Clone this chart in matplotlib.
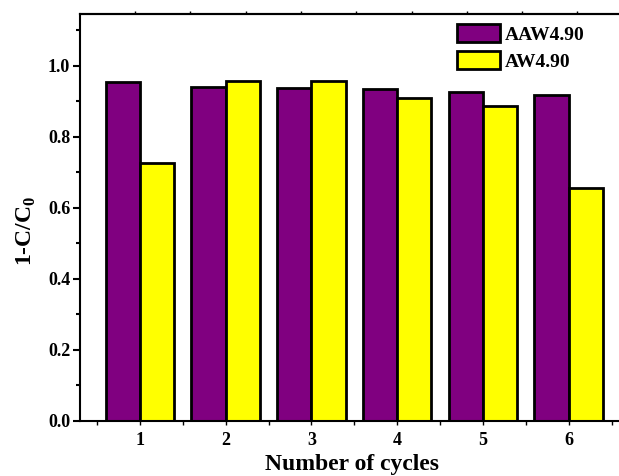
import numpy as np
import matplotlib
matplotlib.use("Agg")
import matplotlib.pyplot as plt
from matplotlib.ticker import MultipleLocator

plt.rcParams['font.family'] = 'Liberation Serif'
plt.rcParams['font.weight'] = 'bold'
plt.rcParams['mathtext.fontset'] = 'custom'
plt.rcParams['mathtext.bf'] = 'Liberation Serif:bold'
plt.rcParams['mathtext.rm'] = 'Liberation Serif:bold'

cycles = [1, 2, 3, 4, 5, 6]
aaw = [0.953, 0.941, 0.938, 0.934, 0.925, 0.918]
aw = [0.725, 0.957, 0.957, 0.910, 0.888, 0.655]
names = ['AAW4.90', 'AW4.90']
colors = ['#800080', '#ffff00']

fig = plt.figure(figsize=(6.19, 4.76), dpi=100)
ax = fig.add_axes([0.1292, 0.1162, 0.8805, 0.8544])

x = np.array(cycles)
w = 0.4
ax.bar(x - w/2, aaw, w, color=colors[0], edgecolor='k', linewidth=2, label=names[0])
ax.bar(x + w/2, aw, w, color=colors[1], edgecolor='k', linewidth=2, label=names[1])

ax.set_xlim(0.30, 6.657)
ax.set_ylim(0, 1.146)
ax.set_xticks(cycles)
ax.xaxis.set_minor_locator(MultipleLocator(0.5))
ax.yaxis.set_minor_locator(MultipleLocator(0.1))
ax.set_yticks([0, 0.2, 0.4, 0.6, 0.8, 1.0])
ax.set_yticklabels(['0.0', '0.2', '0.4', '0.6', '0.8', '1.0'])

for s in ax.spines.values():
    s.set_linewidth(1.5)
ax.tick_params(axis='y', which='major', direction='out', length=5, width=1.5, labelsize=13, pad=2)
ax.tick_params(axis='y', which='minor', direction='out', length=3, width=1.5)
ax.tick_params(axis='x', which='major', direction='out', length=3, width=1, labelsize=13, pad=5)
ax.tick_params(axis='x', which='minor', direction='out', length=3, width=1)
ax.tick_params(right=False, top=False)

# small unlabeled ticks along the top spine
top = ax.secondary_xaxis('top')
top.set_xticks(np.arange(0.942, 6.7, 0.645))
top.set_xticklabels([])
top.tick_params(direction='out', length=2, width=1)
top.spines['top'].set_linewidth(1.5)

ax.set_xlabel('Number of cycles', fontsize=17, fontweight='bold', labelpad=4)
ax.set_ylabel(r'1-C/C$_\mathbf{0}$', fontsize=17, fontweight='bold')
ax.yaxis.set_label_coords(-0.077, 0.466)

ax.legend(loc='upper left', bbox_to_anchor=(0.692, 0.975), frameon=False,
          fontsize=14, handlelength=2.2, handleheight=1.03, handletextpad=0.25,
          labelspacing=0.4, borderpad=0, borderaxespad=0)

fig.savefig('out.png', dpi=100)
